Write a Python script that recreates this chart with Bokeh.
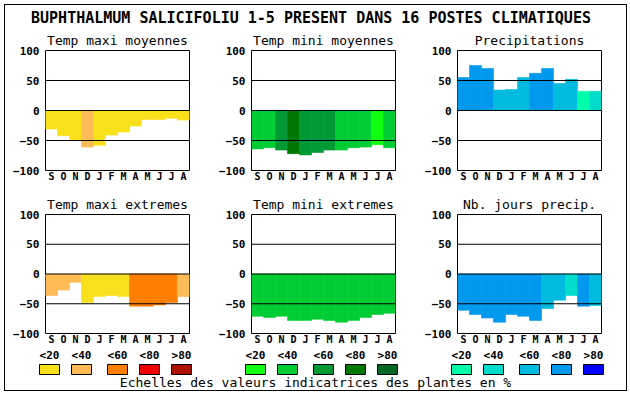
from bokeh.plotting import figure
from bokeh.layouts import column, row
from bokeh.models import Range1d, FixedTicker, Span, ColumnDataSource, Spacer
from bokeh.embed import file_html
from bokeh.resources import INLINE
from bokeh.core.properties import value

# ---------------- data ----------------
TITLE = "BUPHTHALMUM SALICIFOLIU 1-5 PRESENT DANS  16 POSTES CLIMATIQUES"
MONTHS = ["S", "O", "N", "D", "J", "F", "M", "A", "M", "J", "J", "A"]
Y_TICKS = [-100, -50, 0, 50, 100]
GRID_VALUES = [-50, 0, 50]
SCALE_LABELS = ["<20", "<40", "<60", "<80", ">80"]
LEGEND_TEXT = "Echelles des valeurs indicatrices des plantes en %"

titles = ["Temp maxi moyennes", "Temp mini moyennes", "Precipitations",
          "Temp maxi extremes", "Temp mini extremes", "Nb. jours precip."]

temp_maxi_moy = [-31, -42, -50, -61, -58, -41, -36, -26, -15, -15, -13, -16]
temp_maxi_moy_cls = [0, 0, 0, 1, 0, 0, 0, 0, 0, 0, 0, 0]
temp_mini_moy = [-64, -62, -66, -72, -74, -70, -66, -66, -62, -61, -57, -62]
temp_mini_moy_cls = [1, 1, 2, 3, 2, 2, 2, 1, 1, 1, 0, 1]
precip = [55, 75, 70, 34, 35, 55, 62, 70, 45, 52, 32, 32]
precip_cls = [3, 3, 3, 2, 2, 2, 3, 3, 2, 2, 0, 1]
temp_maxi_ext = [-36, -27, -14, -48, -38, -36, -38, -54, -54, -52, -48, -38]
temp_maxi_ext_cls = [1, 1, 1, 0, 0, 0, 0, 2, 2, 2, 2, 1]
temp_mini_ext = [-71, -73, -71, -78, -78, -76, -78, -81, -78, -73, -68, -66]
temp_mini_ext_cls = [1, 1, 1, 1, 1, 1, 1, 1, 1, 1, 1, 1]
nb_jours = [-61, -68, -74, -81, -68, -71, -78, -58, -44, -36, -54, -53]
nb_jours_cls = [3, 3, 3, 3, 3, 3, 3, 2, 2, 1, 3, 2]

# ---------------- styles ----------------
WARM = ["#F8E11A", "#FFBB55", "#FF8000", "#EE0000", "#AA1100"]
GREEN = ["#11FF11", "#00CC33", "#009933", "#007700", "#006622"]
BLUE = ["#00FFAA", "#00DDCC", "#00BBDD", "#0099EE", "#0000FF"]
MONO = "DejaVu Sans Mono"

FRAME_W = 144
FRAME_H = 120
LEFT_B = 40


def make_panel(title, vals, cls, palette, width, top_b, bottom_b):
    n = len(vals)
    p = figure(width=width, height=top_b + FRAME_H + bottom_b,
               x_range=Range1d(0, n), y_range=Range1d(-100, 100),
               output_backend="svg", toolbar_location=None,
               min_border_left=LEFT_B, min_border_right=width - LEFT_B - FRAME_W,
               min_border_top=top_b, min_border_bottom=bottom_b,
               title=title)
    p.title.text_font = MONO
    p.title.text_font_style = "normal"
    p.title.text_font_size = "13px"
    p.title.text_color = "black"
    p.title.align = "center"
    p.title.standoff = 5
    xs = [i + 0.5 for i in range(n)]
    colors = [palette[c] for c in cls]
    src = ColumnDataSource(dict(x=xs, v=vals, c=colors))
    p.vbar(x="x", width=1, bottom=0, top="v", fill_color="c", line_color="c",
           line_width=0.6, source=src)
    for g in GRID_VALUES:
        p.add_layout(Span(location=g, dimension="width", line_color="black", line_width=1))
    p.xgrid.visible = False
    p.ygrid.visible = False
    p.outline_line_color = "black"
    p.outline_line_width = 1
    p.xaxis.ticker = FixedTicker(ticks=xs)
    p.xaxis.major_label_overrides = {x: m for x, m in zip(xs, MONTHS)}
    p.yaxis.ticker = FixedTicker(ticks=Y_TICKS)
    for ax in (p.xaxis[0], p.yaxis[0]):
        ax.axis_line_color = None
        ax.major_tick_line_color = None
        ax.minor_tick_line_color = None
        ax.major_tick_in = 0
        ax.major_tick_out = 0
        ax.minor_tick_in = 0
        ax.minor_tick_out = 0
        ax.major_label_text_font = MONO
        ax.major_label_text_font_style = "bold"
        ax.major_label_text_color = "black"
    p.xaxis.major_label_text_font_size = "10px"
    p.xaxis.major_label_standoff = 0
    p.yaxis.major_label_text_font_size = "11px"
    p.yaxis.major_label_standoff = 6
    return p


WIDTHS = [206, 206, 209]
panels_data = [
    (temp_maxi_moy, temp_maxi_moy_cls, WARM),
    (temp_mini_moy, temp_mini_moy_cls, GREEN),
    (precip, precip_cls, BLUE),
    (temp_maxi_ext, temp_maxi_ext_cls, WARM),
    (temp_mini_ext, temp_mini_ext_cls, GREEN),
    (nb_jours, nb_jours_cls, BLUE),
]

row1 = [make_panel(titles[i], *panels_data[i], WIDTHS[i], 24, 20) for i in range(3)]
row2 = [make_panel(titles[i + 3], *panels_data[i + 3], WIDTHS[i], 24, 13) for i in range(3)]

# ---------------- title strip (page coordinates) ----------------
TOTAL_W = sum(WIDTHS)
X0 = 5
T_TOP, T_BOT = 5, 26
t = figure(width=TOTAL_W, height=T_BOT - T_TOP, x_range=Range1d(X0, X0 + TOTAL_W),
           y_range=Range1d(T_BOT, T_TOP), output_backend="svg", toolbar_location=None,
           x_axis_location=None, y_axis_location=None, min_border=0)
t.grid.visible = False
t.outline_line_color = None
t.text(x=[315], y=[17], text=[TITLE], text_font=value(MONO), text_font_style="bold",
       text_font_size="15px", text_align="center", text_baseline="middle", text_color="black")

# ---------------- legend strip ----------------
LEG_TOP, LEG_BOT = 347, 390
leg = figure(width=TOTAL_W, height=LEG_BOT - LEG_TOP, x_range=Range1d(X0, X0 + TOTAL_W),
             y_range=Range1d(LEG_BOT, LEG_TOP), output_backend="svg", toolbar_location=None,
             x_axis_location=None, y_axis_location=None, min_border=0)
leg.grid.visible = False
leg.outline_line_color = None
GROUP_X = [39, 245, 451]
BOX_OFF = [0, 32, 68, 100, 132]
BOX_W = 20
for gx, pal in zip(GROUP_X, [WARM, GREEN, BLUE]):
    lefts = [gx + o for o in BOX_OFF]
    leg.quad(left=lefts, right=[l + BOX_W for l in lefts], top=[364] * 5, bottom=[374] * 5,
             fill_color=pal, line_color="black", line_width=1)
    leg.text(x=[l + BOX_W / 2 for l in lefts], y=[354.5] * 5, text=SCALE_LABELS,
             text_font=value(MONO), text_font_style="bold", text_font_size="11px",
             text_align="center", text_baseline="middle", text_color="black")
leg.text(x=[315], y=[382], text=[LEGEND_TEXT], text_font=value(MONO),
         text_font_size="13px", text_align="center", text_baseline="middle",
         text_color="black")

framed = column(t, row(*row1, spacing=0), row(*row2, spacing=0), leg, spacing=0,
                styles={"border": "1px solid black"})
layout = row(Spacer(width=4), column(Spacer(height=4), framed, spacing=0), spacing=0)

open("out.html", "w").write(file_html(layout, INLINE))
